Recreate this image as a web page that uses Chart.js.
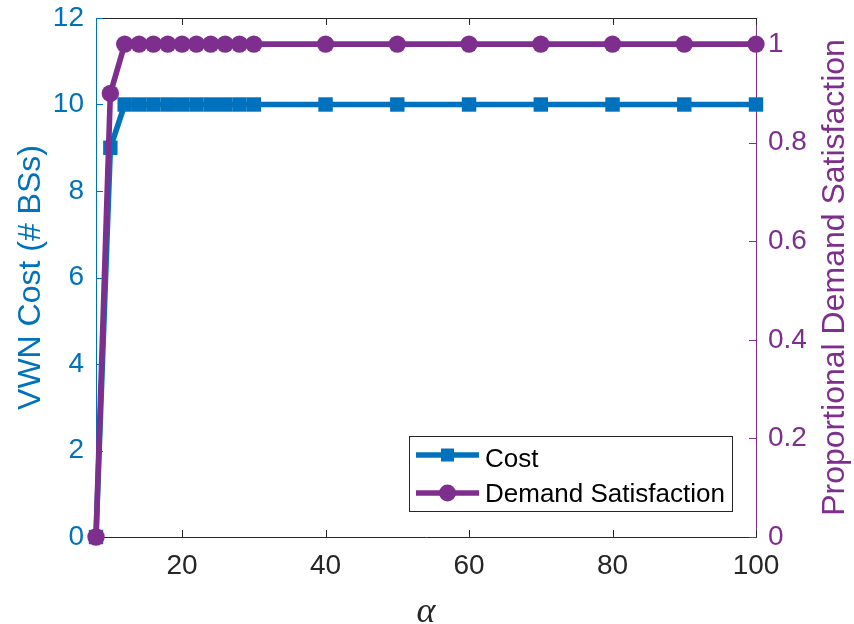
<!DOCTYPE html>
<html>
<head>
<meta charset="utf-8">
<script src="https://cdn.jsdelivr.net/npm/chart.js@4/dist/chart.umd.min.js"></script>
<style>
  html, body { margin: 0; padding: 0; background: #ffffff; }
  canvas { display: block; }
</style>
</head>
<body>
<canvas id="chart" width="854" height="624"></canvas>
<script>
// alpha sweep and the two measured quantities
const alphaValues  = [8, 10, 12, 14, 16, 18, 20, 22, 24, 26, 28, 30, 40, 50, 60, 70, 80, 90, 100];
const costValues   = [0, 9, 10, 10, 10, 10, 10, 10, 10, 10, 10, 10, 10, 10, 10, 10, 10, 10, 10];
const demandValues = [0, 0.9, 1, 1, 1, 1, 1, 1, 1, 1, 1, 1, 1, 1, 1, 1, 1, 1, 1];

// tick positions
const xTickValues      = [20, 40, 60, 80, 100];
const costTickValues   = [0, 2, 4, 6, 8, 10, 12];
const demandTickValues = [0, 0.2, 0.4, 0.6, 0.8, 1];

const seriesNames = ['Cost', 'Demand Satisfaction'];
const xTitle = 'α';
const costTitle = 'VWN Cost (# BSs)';
const demandTitle = 'Proportional Demand Satisfaction';

const BLUE = '#0072BD';
const PURPLE = '#7E2F8E';
const DARK = '#262626';
const SANS = "'Liberation Sans', Arial, Helvetica, sans-serif";
const LINE_W = 5.6;

function toPoints(xs, ys) {
  return xs.map((x, i) => ({ x: x, y: ys[i] }));
}

function fixTicks(values) {
  return function (scale) {
    scale.ticks = values.map(v => ({ value: v }));
  };
}

// inward tick marks, top frame line, right-hand title and the legend box
const decorations = {
  id: 'decorations',
  beforeDatasetsDraw(chart) {
    const { ctx, chartArea: a, scales } = chart;
    const len = 7;
    ctx.save();
    ctx.lineWidth = 1;

    ctx.strokeStyle = DARK;
    ctx.beginPath();
    ctx.moveTo(a.left, a.top + 0.5);
    ctx.lineTo(a.right, a.top + 0.5);
    xTickValues.forEach(v => {
      const px = Math.round(scales.x.getPixelForValue(v)) + 0.5;
      ctx.moveTo(px, a.bottom);
      ctx.lineTo(px, a.bottom - len);
      ctx.moveTo(px, a.top);
      ctx.lineTo(px, a.top + len);
    });
    ctx.stroke();

    ctx.strokeStyle = BLUE;
    ctx.beginPath();
    costTickValues.forEach(v => {
      const py = Math.round(scales.yCost.getPixelForValue(v)) + 0.5;
      ctx.moveTo(a.left, py);
      ctx.lineTo(a.left + len, py);
    });
    ctx.stroke();

    ctx.strokeStyle = PURPLE;
    ctx.beginPath();
    demandTickValues.forEach(v => {
      const py = Math.round(scales.yDemand.getPixelForValue(v)) + 0.5;
      ctx.moveTo(a.right, py);
      ctx.lineTo(a.right - len, py);
    });
    ctx.stroke();
    ctx.restore();
  },
  afterDraw(chart) {
    const { ctx, chartArea: a } = chart;
    ctx.save();

    // right axis title, reading bottom to top
    ctx.translate(835, (a.top + a.bottom) / 2);
    ctx.rotate(-Math.PI / 2);
    ctx.font = '32px ' + SANS;
    ctx.fillStyle = PURPLE;
    ctx.textAlign = 'center';
    ctx.textBaseline = 'middle';
    ctx.fillText(demandTitle, 0, 0);
    ctx.restore();

    // legend
    const box = { x: 409.5, y: 436.5, w: 323, h: 75 };
    ctx.save();
    ctx.fillStyle = '#ffffff';
    ctx.fillRect(box.x, box.y, box.w, box.h);
    ctx.strokeStyle = DARK;
    ctx.lineWidth = 1;
    ctx.strokeRect(box.x, box.y, box.w, box.h);

    const rows = [
      { name: seriesNames[0], color: BLUE, marker: 'square', y: 455, textY: 467 },
      { name: seriesNames[1], color: PURPLE, marker: 'circle', y: 493, textY: 502 }
    ];
    rows.forEach(r => {
      ctx.strokeStyle = r.color;
      ctx.lineWidth = LINE_W;
      ctx.beginPath();
      ctx.moveTo(416, r.y);
      ctx.lineTo(479, r.y);
      ctx.stroke();
      ctx.fillStyle = r.color;
      if (r.marker === 'square') {
        ctx.fillRect(447.5 - 6.5, r.y - 6.5, 13, 13);
      } else {
        ctx.beginPath();
        ctx.arc(447.5, r.y, 8.5, 0, Math.PI * 2);
        ctx.fill();
      }
      ctx.fillStyle = '#000000';
      ctx.font = '26px ' + SANS;
      ctx.textAlign = 'left';
      ctx.textBaseline = 'alphabetic';
      ctx.fillText(r.name, 485, r.textY);
    });
    ctx.restore();
  }
};

new Chart(document.getElementById('chart'), {
  type: 'line',
  data: {
    datasets: [
      {
        label: seriesNames[0],
        data: toPoints(alphaValues, costValues),
        yAxisID: 'yCost',
        borderColor: BLUE,
        backgroundColor: BLUE,
        borderWidth: LINE_W,
        pointStyle: 'rect',
        pointRadius: 10.2,
        pointBorderWidth: 0,
        tension: 0,
        clip: false,
        order: 2
      },
      {
        label: seriesNames[1],
        data: toPoints(alphaValues, demandValues),
        yAxisID: 'yDemand',
        borderColor: PURPLE,
        backgroundColor: PURPLE,
        borderWidth: LINE_W,
        pointStyle: 'circle',
        pointRadius: 8.7,
        pointBorderWidth: 0,
        tension: 0,
        clip: false,
        order: 1
      }
    ]
  },
  options: {
    responsive: false,
    devicePixelRatio: 1,
    animation: false,
    layout: { padding: { top: 18, left: 0, right: 0, bottom: 0 } },
    plugins: {
      legend: { display: false },
      tooltip: { enabled: false }
    },
    scales: {
      x: {
        type: 'linear',
        position: 'bottom',
        min: 8,
        max: 100,
        afterBuildTicks: fixTicks(xTickValues),
        afterFit(scale) { scale.height = 87; scale.paddingLeft = 0; scale.paddingRight = 0; },
        grid: { drawOnChartArea: false, drawTicks: false },
        border: { display: true, color: DARK, width: 1 },
        ticks: {
          color: DARK,
          font: { family: SANS, size: 28 },
          padding: 12,
          maxRotation: 0,
          autoSkip: false
        },
        title: {
          display: true,
          text: xTitle,
          color: DARK,
          font: { family: "'Liberation Serif', 'DejaVu Serif', serif", size: 36, style: 'italic', lineHeight: 0.6 },
          padding: { top: 0, bottom: 1 }
        }
      },
      yCost: {
        type: 'linear',
        position: 'left',
        min: 0,
        max: 12,
        afterBuildTicks: fixTicks(costTickValues),
        afterFit(scale) { scale.width = 96; scale.paddingTop = 0; scale.paddingBottom = 0; },
        grid: { drawOnChartArea: false, drawTicks: false },
        border: { display: true, color: BLUE, width: 1 },
        ticks: {
          color: BLUE,
          font: { family: SANS, size: 28 },
          padding: 12,
          autoSkip: false
        },
        title: {
          display: true,
          text: costTitle,
          color: BLUE,
          font: { family: SANS, size: 32, lineHeight: 1.2 },
          padding: { top: 12, bottom: 0 }
        }
      },
      yDemand: {
        type: 'linear',
        position: 'right',
        min: 0,
        max: 1.053,
        afterBuildTicks: fixTicks(demandTickValues),
        afterFit(scale) { scale.width = 98; scale.paddingTop = 0; scale.paddingBottom = 0; },
        grid: { drawOnChartArea: false, drawTicks: false },
        border: { display: true, color: PURPLE, width: 1 },
        ticks: {
          color: PURPLE,
          font: { family: SANS, size: 28 },
          padding: 12,
          autoSkip: false,
          callback: v => String(Math.round(v * 10) / 10)
        }
      }
    }
  },
  plugins: [decorations]
});
</script>
</body>
</html>
